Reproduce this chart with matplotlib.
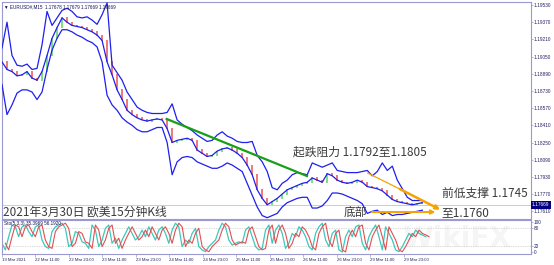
import numpy as np
import matplotlib.pyplot as plt
import matplotlib.transforms as mtrans

plt.rcParams['font.family'] = ['Noto Sans CJK SC', 'DejaVu Sans']

# bars between two samples (15 min bars)
BAR_STEP = 7.17
STO_STEP = 4.78

# outer bands and middle line of EURUSD M15, read every ~5 px
upper = [1.1913, 1.1937, 1.1906, 1.1897, 1.1896, 1.1898, 1.1893, 1.1894, 1.1916, 1.1947,
         1.1934, 1.1941, 1.1948, 1.1950, 1.1947, 1.1942, 1.1941, 1.1942, 1.1939, 1.1935,
         1.1944, 1.1955, 1.1897, 1.1890, 1.1883, 1.1872, 1.1865, 1.1858, 1.1855, 1.1853,
         1.1852, 1.1852, 1.1852, 1.1853, 1.1861, 1.1846, 1.1842, 1.1839, 1.1836, 1.1832,
         1.1829, 1.1826, 1.1827, 1.1832, 1.1835, 1.1831, 1.1829, 1.1826, 1.1825, 1.1825,
         1.1826, 1.1813, 1.1807, 1.1798, 1.1783, 1.1781, 1.1787, 1.1790, 1.1795, 1.1797,
         1.1796, 1.1795, 1.1806, 1.1804, 1.1802, 1.1804, 1.1806, 1.1799, 1.1798, 1.1797,
         1.1797, 1.1797, 1.1798, 1.1799, 1.1794, 1.1798, 1.1806, 1.1799, 1.1803, 1.1790,
         1.1782, 1.1774, 1.1771, 1.1771, 1.1771]
mid = [1.1900, 1.1893, 1.1891, 1.1887, 1.1888, 1.1891, 1.1885, 1.1883, 1.1891, 1.1906,
       1.1922, 1.1932, 1.1941, 1.1937, 1.1934, 1.1933, 1.1932, 1.1930, 1.1928, 1.1925,
       1.1920, 1.1900, 1.1888, 1.1874, 1.1865, 1.1855, 1.1851, 1.1848, 1.1846, 1.1845,
       1.1846, 1.1847, 1.1846, 1.1838, 1.1825, 1.1827, 1.1828, 1.1829, 1.1827, 1.1818,
       1.1815, 1.1812, 1.1813, 1.1817, 1.1819, 1.1820, 1.1818, 1.1815, 1.1811, 1.1804,
       1.1795, 1.1781, 1.1773, 1.1767, 1.1770, 1.1773, 1.1777, 1.1781, 1.1783, 1.1785,
       1.1787, 1.1788, 1.1792, 1.1790, 1.1788, 1.1796, 1.1794, 1.1790, 1.1788, 1.1787,
       1.1788, 1.1790, 1.1788, 1.1784, 1.1783, 1.1782, 1.1780, 1.1776, 1.1772, 1.1770,
       1.1769, 1.1768, 1.1767, 1.1768, 1.1769]
lower = [1.1879, 1.1851, 1.1860, 1.1871, 1.1874, 1.1874, 1.1872, 1.1865, 1.1872, 1.1893,
         1.1911, 1.1922, 1.1930, 1.1930, 1.1928, 1.1925, 1.1923, 1.1920, 1.1918, 1.1914,
         1.1900, 1.1869, 1.1860, 1.1855, 1.1848, 1.1844, 1.1841, 1.1837, 1.1835, 1.1835,
         1.1837, 1.1839, 1.1839, 1.1825, 1.1795, 1.1807, 1.1811, 1.1812, 1.1811, 1.1807,
         1.1805, 1.1803, 1.1801, 1.1801, 1.1803, 1.1806, 1.1804, 1.1801, 1.1798, 1.1787,
         1.1776, 1.1765, 1.1757, 1.1755, 1.1757, 1.1759, 1.1765, 1.1769, 1.1771, 1.1773,
         1.1774, 1.1774, 1.1764, 1.1764, 1.1766, 1.1771, 1.1778, 1.1778, 1.1777, 1.1775,
         1.1773, 1.1771, 1.1768, 1.1759, 1.1761, 1.1762, 1.1758, 1.1760, 1.1757, 1.1758,
         1.1758, 1.1759, 1.1760, 1.1761, 1.1762]

# stochastic main line, read every ~3.3 px
stoch = [29, 7, 51, 90, 84, 51, 84, 90, 68, 51, 84, 90, 40, 18, 12, 68, 84, 90, 96, 79,
         18, 29, 68, 62, 34, 29, 12, 90, 73, 18, 40, 79, 90, 29, 46, 12, 40, 62, 84, 62,
         40, 51, 73, 51, 84, 62, 40, 73, 84, 62, 29, 73, 96, 84, 18, 40, 29, 62, 79, 18,
         7, 1, 18, 29, 40, 73, 96, 84, 40, 23, 29, 34, 29, 73, 84, 51, 18, 7, 12, 73,
         90, 29, 73, 90, 62, 12, 29, 62, 51, 84, 73, 51, 18, 7, 62, 84, 96, 40, 18, 62,
         73, 7, 0, 51, 73, 51, 84, 90, 29, 7, 51, 73, 90, 51, 7, 84, 62, 40, 7, 1,
         18, 40, 62, 51, 73, 62, 57, 51]

price_ticks = [1.19530, 1.19370, 1.19210, 1.19050, 1.18890, 1.18730, 1.18570,
               1.18410, 1.18250, 1.18090, 1.17930, 1.17770, 1.17610]
last_price = 1.17669
time_labels = ["19 Mar 2021", "22 Mar 11:00", "22 Mar 23:00", "23 Mar 11:00", "23 Mar 23:00",
               "24 Mar 11:00", "24 Mar 23:00", "25 Mar 11:00", "25 Mar 23:00", "26 Mar 11:00",
               "26 Mar 23:00", "29 Mar 11:00", "29 Mar 23:00"]

# drawn objects (bar, price)
green_trend = [(236, 1.18469), (437, 1.17938)]
orange_thin = [(524, 1.17966), (570, 1.17817)]
orange_arrow = [(570, 1.17817), (628, 1.17625)]
orange_flat = [(530, 1.17603), (621, 1.17603)]

W, H = 554, 265
BLUE = '#1f1ff0'
EDGE = '#9a9ad0'
TXT = '#3a3a3a'
AXT = '#202060'
SMALL = ['Liberation Sans', 'DejaVu Sans']


def box(x0, y0, x1, y1):
    return [x0 / W, 1 - y1 / H, (x1 - x0) / W, (y1 - y0) / H]


fig = plt.figure(figsize=(W / 100, H / 100), dpi=100)
ax = fig.add_axes(box(2, 2, 531, 219))
ax2 = fig.add_axes(box(2, 220, 531, 254))

xs = np.arange(len(mid)) * BAR_STEP

# candles between samples
for i in range(1, len(mid)):
    lo, hi = sorted([mid[i - 1], mid[i]])
    col = '#7de07d' if mid[i] >= mid[i - 1] else '#f07878'
    ax.vlines(xs[i], lo - 0.00005, hi + 0.00005, color=col, lw=1.4, zorder=2)

ax.plot(xs, upper, color=BLUE, lw=0.9, zorder=3)
ax.plot(xs, mid, color=BLUE, lw=0.9, zorder=3)
ax.plot(xs, lower, color=BLUE, lw=0.9, zorder=3)

ax.axhline(last_price, color='#c4c4c4', lw=0.6, zorder=1)

ax.plot(*zip(*green_trend), color='#16a016', lw=1.6, zorder=4)
ax.plot(*zip(*orange_thin), color='#f5a300', lw=0.9, zorder=4)
for seg, lw in [(orange_arrow, 1.8), (orange_flat, 1.4)]:
    ax.annotate('', xy=seg[1], xytext=seg[0],
                arrowprops=dict(arrowstyle='-|>', color='#f5a300', lw=lw,
                                mutation_scale=6, shrinkA=0, shrinkB=0), zorder=4)

ax.text(417, 1.18161, '起跌阻力 1.1792至1.1805', fontsize=8.5, color=TXT, va='center', zorder=5)
ax.text(630, 1.17780, '前低支撑 1.1745', fontsize=8.5, color=TXT, va='center', zorder=5)
ax.text(630, 1.17598, '至1.1760', fontsize=8.5, color=TXT, va='center', zorder=5)
ax.text(489, 1.17598, '底部', fontsize=8.5, color=TXT, va='center', zorder=5)
ax.text(1, 1.17598, '2021年3月30日 欧美15分钟K线', fontsize=8.5, color=TXT, va='center', zorder=5)
ax.text(0.003, 0.99, '▼ EURUSD#,M15  1.17678 1.17679 1.17669 1.17669',
        transform=ax.transAxes, fontsize=3.3, color='#101050', va='top', family=SMALL)

ax.set_xlim(0, 758)
ax.set_ylim(1.17538, 1.19558)
ax.set_xticks([])
ax.yaxis.tick_right()
ax.set_yticks(price_ticks)
ax.set_yticklabels(['%.5f' % p for p in price_ticks], family=SMALL)
ax.tick_params(axis='y', labelsize=3.4, labelcolor=AXT, color=EDGE, length=1.2, width=0.5, pad=0.6)

tr = mtrans.blended_transform_factory(ax.transAxes, ax.transData)
ax.text(1.002, last_price, '1.17669', transform=tr, fontsize=3.4, color='white',
        va='center', ha='left', family=SMALL,
        bbox=dict(facecolor='#000080', edgecolor='none', pad=0.8), zorder=6, clip_on=False)

# stochastic panel
sx = np.arange(len(stoch)) * STO_STEP
ax2.text(0.86, 0.45, 'WikiFX', transform=ax2.transAxes, fontsize=20, fontweight='bold',
         color='#f5f5f5', ha='center', va='center', zorder=0, family=['DejaVu Sans'])
ax2.plot(sx, stoch, color='#3cc8bc', lw=0.9, zorder=2)
ax2.plot(sx + STO_STEP, stoch, color='#e05050', lw=0.8, zorder=3)
for lvl in (20, 80):
    ax2.axhline(lvl, color='#b8b8b8', lw=0.5, ls=(0, (1, 1.5)), zorder=1)
ax2.text(0.003, 0.97, 'Sto(5,3,3) 35.3969 56.1920', transform=ax2.transAxes,
         fontsize=3.3, color='#101050', va='top', family=SMALL)

ax2.set_xlim(0, 758)
ax2.set_ylim(-6.7, 106.7)
ax2.yaxis.tick_right()
ax2.set_yticks([100, 80, 20, 0])
ax2.set_yticklabels(['100', '80', '20', '0'], family=SMALL)
ax2.tick_params(axis='y', labelsize=3.4, labelcolor=AXT, color=EDGE, length=1.2, width=0.5, pad=0.6)
ax2.set_xticks(np.arange(len(time_labels)) * 48)
ax2.set_xticklabels(time_labels, ha='left', family=SMALL)
ax2.tick_params(axis='x', labelsize=3.1, labelcolor=AXT, color=EDGE, length=2, width=0.5, pad=1)

for a in (ax, ax2):
    for s in a.spines.values():
        s.set_color(EDGE)
        s.set_linewidth(0.8)

fig.savefig('out.png', dpi=100)
